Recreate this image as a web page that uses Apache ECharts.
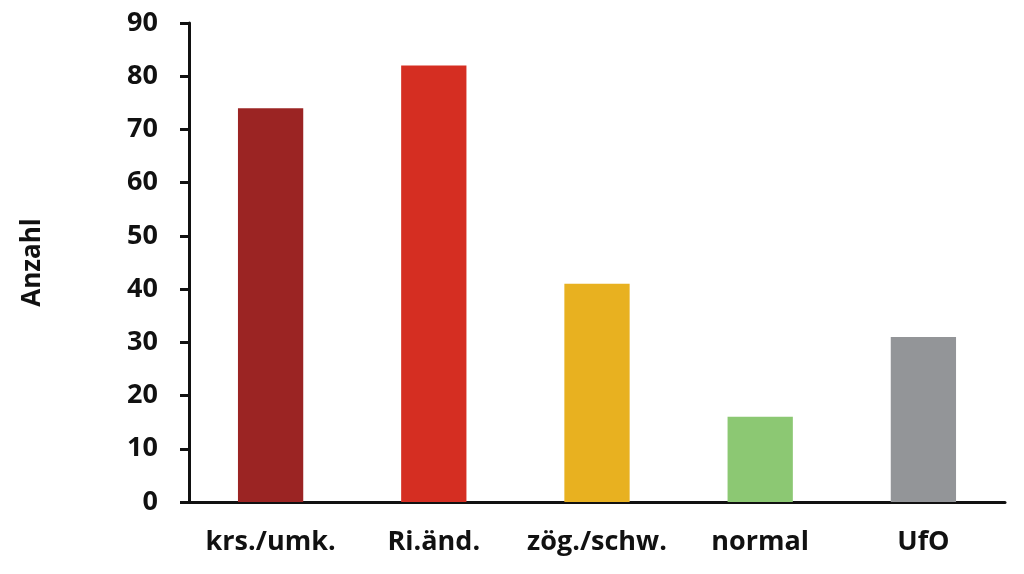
<!DOCTYPE html>
<html><head><meta charset="utf-8">
<script src="https://cdn.jsdelivr.net/npm/echarts@6/dist/echarts.min.js"></script>
<style>html,body{margin:0;padding:0;background:#fff}#c{width:1024px;height:574px}</style>
</head><body><div id="c"></div>
<script>
const categories = ['krs./umk.', 'Ri.änd.', 'zög./schw.', 'normal', 'UfO'];
const values = [74, 82, 41, 16, 31];
const barColors = ['#9B2423', '#D52E22', '#E8B120', '#8CC873', '#939598'];
const yTicks = { min: 0, max: 90, interval: 10 };
const yName = 'Anzahl';

const font = '"Open Sans", "Noto Sans", sans-serif';
const chart = echarts.init(document.getElementById('c'), null, { renderer: 'canvas' });
chart.setOption({
  animation: false,
  backgroundColor: '#fff',
  grid: { left: 189, right: 19, top: 23, bottom: 72, containLabel: false },
  xAxis: {
    type: 'category', data: categories,
    axisLine: { lineStyle: { color: '#111', width: 3 } },
    axisTick: { show: false },
    axisLabel: { interval: 0, hideOverlap: false, color: '#111', fontFamily: font, fontWeight: 'bold', fontSize: 27, margin: 27 }
  },
  yAxis: {
    type: 'value', min: yTicks.min, max: yTicks.max, interval: yTicks.interval,
    name: yName, nameLocation: 'middle', nameGap: 143, nameRotate: 90,
    nameTextStyle: { color: '#111', fontFamily: font, fontWeight: 'bold', fontSize: 26 },
    axisLine: { show: true, lineStyle: { color: '#111', width: 3 } },
    axisTick: { show: true, inside: false, length: 9, lineStyle: { color: '#111', width: 3 } },
    splitLine: { show: false },
    axisLabel: { color: '#111', fontFamily: font, fontWeight: 'bold', fontSize: 27, margin: 31 }
  },
  series: [{
    type: 'bar', barWidth: '40%',
    data: values.map((v, i) => ({ value: v, itemStyle: { color: barColors[i] } }))
  }]
});
</script></body></html>
